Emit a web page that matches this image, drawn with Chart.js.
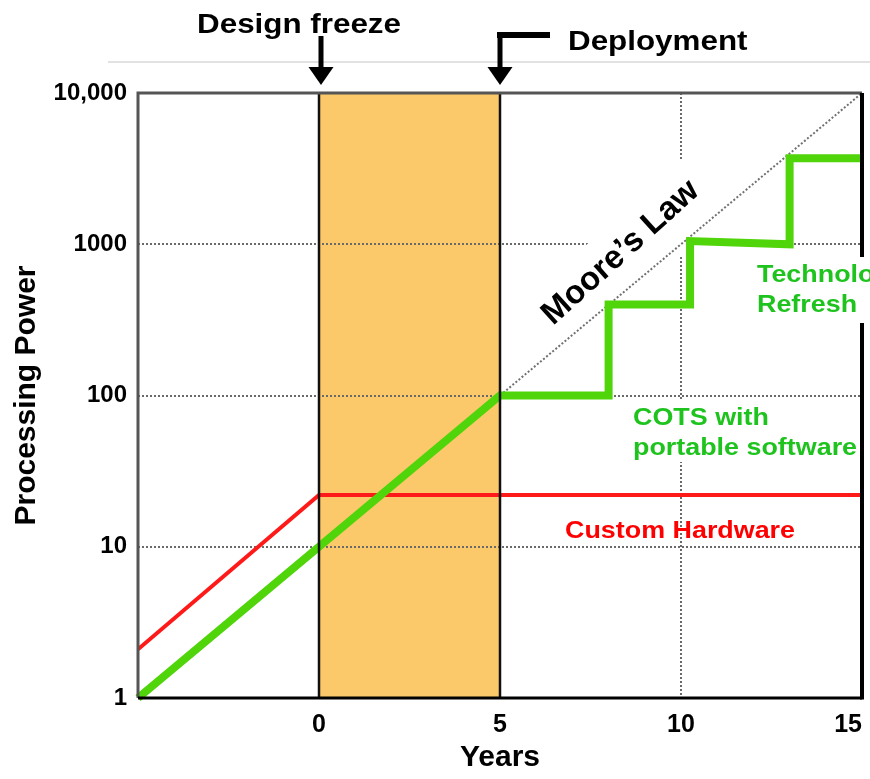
<!DOCTYPE html>
<html>
<head>
<meta charset="utf-8">
<script src="https://cdn.jsdelivr.net/npm/chart.js@4.4.1/dist/chart.umd.min.js"></script>
<style>
  html, body { margin: 0; padding: 0; background: #fff; }
  #wrap { width: 870px; height: 779px; }
</style>
</head>
<body>
<div id="wrap"><canvas id="chart" width="870" height="779"></canvas></div>
<script>
// axis ticks
const xTicks = [-5, 0, 5, 10, 15];
const yTicks = [1, 10, 100, 1000, 10000];

// series (years -> processing power)
const mooreYears = [-5, 15];
const mooreValues = [1, 10000];
const customYears = [-5, 0, 15];
const customValues = [2.1, 22, 22];
const cotsYears = [-5, 5, 8, 8, 10.25, 10.25, 13, 13, 15];
const cotsValues = [1, 100, 100, 400, 400, 1050, 1000, 3700, 3700];

// milestones
const freezeYear = 0;
const deployYear = 5;

const toPoints = (xs, ys) => xs.map((x, i) => ({ x: x, y: ys[i] }));

const FONT = '"Liberation Sans", Arial, sans-serif';

// source picture is a bit wider than tall, so stretch the text like it
function stretchText(ctx, text, x, y, size, color, align) {
    ctx.save();
    ctx.font = 'bold ' + size + 'px ' + FONT;
    ctx.fillStyle = color;
    ctx.textAlign = align || 'left';
    ctx.textBaseline = 'alphabetic';
    ctx.translate(x, y);
    ctx.scale(1.12, 1);
    ctx.fillText(text, 0, 0);
    ctx.restore();
}

function downArrow(ctx, x, yTop, yTip) {
    ctx.fillStyle = '#000';
    ctx.fillRect(x - 2.5, yTop, 5, yTip - yTop - 16);
    ctx.beginPath();
    ctx.moveTo(x - 12.5, yTip - 18);
    ctx.lineTo(x + 12.5, yTip - 18);
    ctx.lineTo(x, yTip);
    ctx.closePath();
    ctx.fill();
}

const MOORE_ANGLE = -42 * Math.PI / 180;
const MOORE_POS = [553, 326];

const annotations = {
    id: 'annotations',
    beforeDraw(chart) {
        const { ctx, chartArea: a, scales: { x } } = chart;
        const x0 = x.getPixelForValue(freezeYear);
        const x1 = x.getPixelForValue(deployYear);
        ctx.save();
        ctx.fillStyle = '#fbc96a';
        ctx.fillRect(x0, a.top, x1 - x0, a.bottom - a.top);
        ctx.restore();
    },
    beforeDatasetsDraw(chart) {
        const { ctx } = chart;
        ctx.save();
        ctx.fillStyle = '#fff';
        // label patch behind "Moore's Law"
        ctx.translate(MOORE_POS[0], MOORE_POS[1]);
        ctx.rotate(MOORE_ANGLE);
        ctx.fillRect(-14, -38, 232, 72);
        ctx.restore();
        ctx.save();
        ctx.fillStyle = '#fff';
        ctx.fillRect(628, 400, 228, 62);
        ctx.restore();
    },
    afterDatasetsDraw(chart) {
        const { ctx, chartArea: a, scales: { x } } = chart;
        const x0 = x.getPixelForValue(freezeYear);
        const x1 = x.getPixelForValue(deployYear);

        ctx.save();
        // milestone lines
        ctx.strokeStyle = '#111';
        ctx.lineWidth = 2.5;
        [x0, x1].forEach(px => {
            ctx.beginPath();
            ctx.moveTo(px, a.top);
            ctx.lineTo(px, a.bottom);
            ctx.stroke();
        });

        // frame
        ctx.lineWidth = 3;
        ctx.strokeStyle = '#555';
        ctx.beginPath();
        ctx.moveTo(a.left, a.bottom);
        ctx.lineTo(a.left, a.top);
        ctx.lineTo(a.right, a.top);
        ctx.stroke();
        ctx.strokeStyle = '#000';
        ctx.beginPath();
        ctx.moveTo(a.left, a.bottom);
        ctx.lineTo(a.right, a.bottom);
        ctx.stroke();
        ctx.lineWidth = 4;
        ctx.beginPath();
        ctx.moveTo(a.right, a.top);
        ctx.lineTo(a.right, a.bottom + 1.5);
        ctx.stroke();

        // light rule under the header
        ctx.strokeStyle = '#e2e2e2';
        ctx.lineWidth = 2;
        ctx.beginPath();
        ctx.moveTo(108, 62);
        ctx.lineTo(870, 62);
        ctx.stroke();

        // header + arrows
        stretchText(ctx, 'Design freeze', x0 - 20, 33, 28, '#000', 'center');
        stretchText(ctx, 'Deployment', 568, 50, 28, '#000', 'left');
        downArrow(ctx, x0 + 2, 36, a.top - 8);
        downArrow(ctx, x1, 35, a.top - 8);
        ctx.fillStyle = '#000';
        ctx.fillRect(x1 - 3, 32, 53, 6);

        // Moore's Law label
        ctx.save();
        ctx.translate(MOORE_POS[0], MOORE_POS[1]);
        ctx.rotate(MOORE_ANGLE);
        ctx.font = 'bold 33px ' + FONT;
        ctx.fillStyle = '#000';
        ctx.textBaseline = 'alphabetic';
        ctx.fillText('Moore\u2019s Law', 0, 0);
        ctx.restore();

        // Technology refresh (cut at the page edge)
        ctx.fillStyle = '#fff';
        ctx.fillRect(752, 257, 118, 66);
        stretchText(ctx, 'Technology', 757, 282, 24, '#1ec31e', 'left');
        stretchText(ctx, 'Refresh', 757, 312, 24, '#1ec31e', 'left');

        stretchText(ctx, 'COTS with', 633, 425, 24, '#1ec31e', 'left');
        stretchText(ctx, 'portable software', 633, 455, 24, '#1ec31e', 'left');
        stretchText(ctx, 'Custom Hardware', 565, 538, 24, '#ff0000', 'left');
        ctx.restore();
    }
};

new Chart(document.getElementById('chart').getContext('2d'), {
    type: 'line',
    data: {
        datasets: [{
            label: 'COTS with portable software',
            data: toPoints(cotsYears, cotsValues),
            borderColor: '#50d40a',
            borderWidth: 8,
            borderJoinStyle: 'miter',
            borderCapStyle: 'butt',
            pointRadius: 0,
            clip: false,
            tension: 0
        }, {
            label: 'Custom Hardware',
            data: toPoints(customYears, customValues),
            borderColor: '#ff1a1a',
            borderWidth: 4,
            pointRadius: 0,
            tension: 0
        }, {
            label: "Moore's Law",
            data: toPoints(mooreYears, mooreValues),
            borderColor: '#707070',
            borderWidth: 2,
            borderDash: [2, 2],
            pointRadius: 0,
            tension: 0
        }]
    },
    options: {
        responsive: false,
        animation: false,
        events: [],
        layout: { padding: { top: 93, right: 8, left: 0, bottom: 0 } },
        plugins: {
            legend: { display: false },
            tooltip: { enabled: false }
        },
        scales: {
            x: {
                type: 'linear',
                min: -5,
                max: 15,
                afterBuildTicks: scale => { scale.ticks = xTicks.map(v => ({ value: v })); },
                afterFit: scale => {
                    scale.height = 81;
                    scale.paddingLeft = 0;
                    scale.paddingRight = 0;
                },
                border: { display: false, dash: [2, 2] },
                grid: {
                    drawTicks: false,
                    lineWidth: 2,
                    color: ctx => (ctx.tick && ctx.tick.value === 10) ? '#6a6a6a' : 'rgba(0,0,0,0)'
                },
                ticks: {
                    padding: 12,
                    align: 'inner',
                    color: '#000',
                    font: { family: FONT, size: 25, weight: 'bold' },
                    callback: v => (v === -5 ? '' : String(v))
                },
                title: {
                    display: true,
                    text: 'Years',
                    color: '#000',
                    font: { family: FONT, size: 30, weight: 'bold' },
                    padding: { top: 0, bottom: 3 }
                }
            },
            y: {
                type: 'logarithmic',
                min: 1,
                max: 10000,
                afterBuildTicks: scale => { scale.ticks = yTicks.map(v => ({ value: v })); },
                afterFit: scale => { scale.width = 138; },
                border: { display: false, dash: [2, 2] },
                grid: {
                    drawTicks: false,
                    lineWidth: 2,
                    color: ctx => (ctx.tick && ctx.tick.value > 1 && ctx.tick.value < 10000) ? '#6a6a6a' : 'rgba(0,0,0,0)'
                },
                ticks: {
                    padding: 11,
                    color: '#000',
                    font: { family: FONT, size: 24, weight: 'bold' },
                    callback: v => (v === 10000 ? '10,000' : String(v))
                },
                title: {
                    display: true,
                    text: 'Processing Power',
                    color: '#000',
                    font: { family: FONT, size: 30, weight: 'bold' },
                    padding: { top: 9, bottom: 0 }
                }
            }
        }
    },
    plugins: [annotations]
});
</script>
</body>
</html>
